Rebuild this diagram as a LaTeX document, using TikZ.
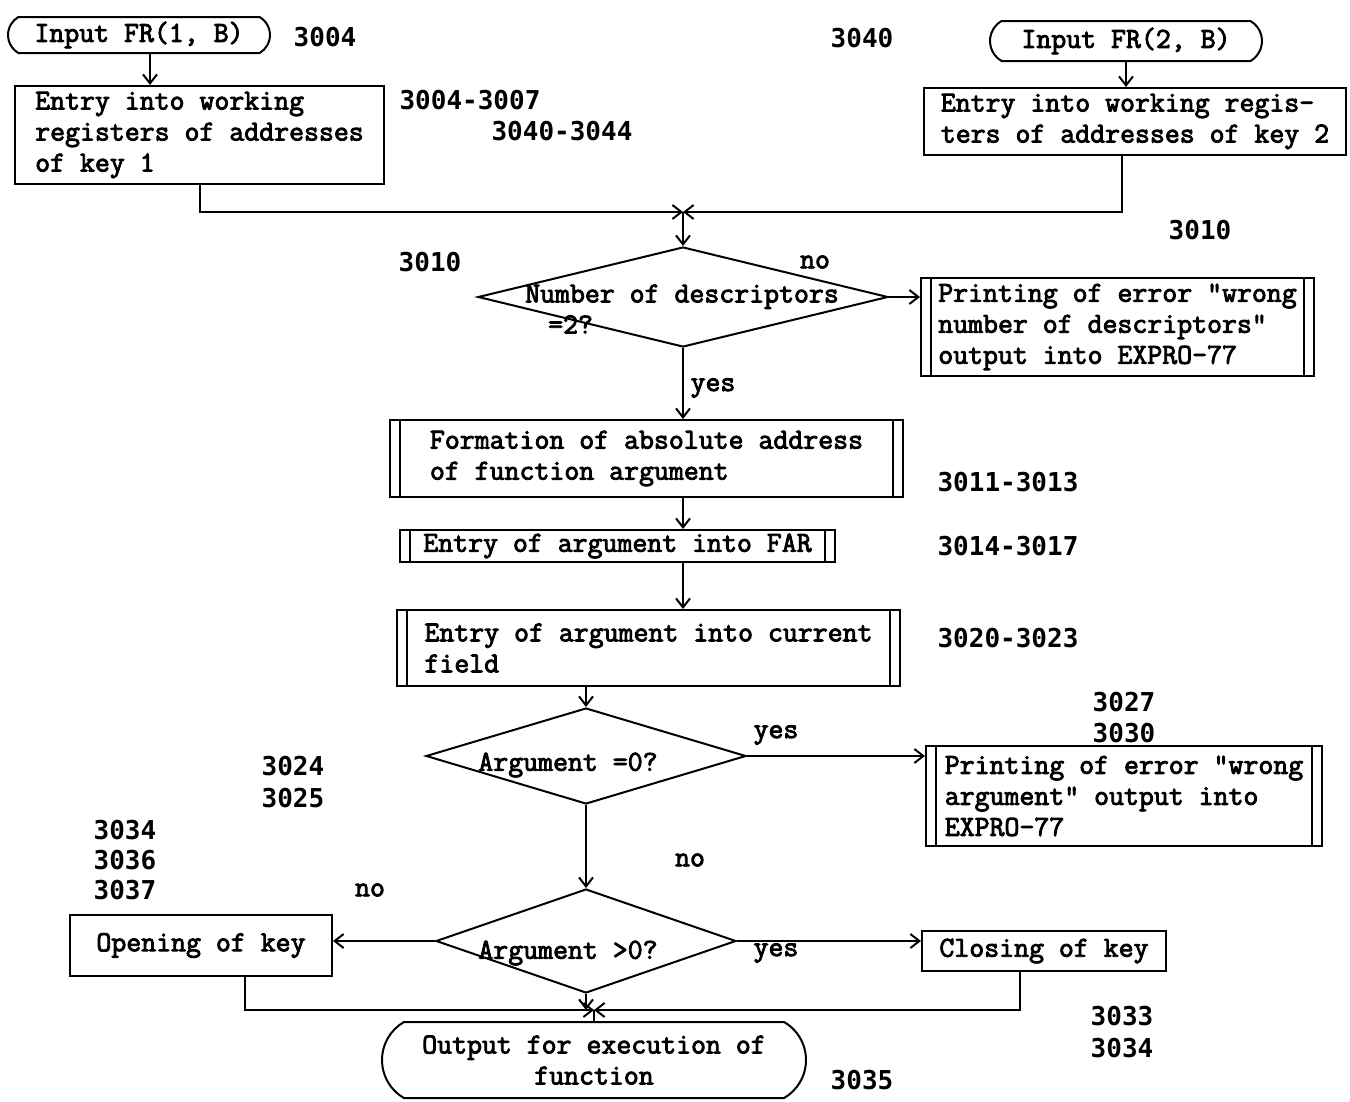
\documentclass[tikz,border=0pt]{standalone}
\usepackage{fontspec}
\newfontfamily\numfont{DejaVu Sans Mono}
\newfontfamily\boxfont{Latin Modern Mono}[FakeBold=3]
\usetikzlibrary{arrows.meta,shapes.geometric,shapes.misc}
\tikzset{
  every node/.style={font=\boxfont\fontsize{29}{31}\selectfont},
  box/.style={draw, rectangle, line width=2pt, align=left, inner sep=0pt},
  predef/.style={box, path picture={\draw[line width=2pt]
      ([xshift=10pt]path picture bounding box.north west) -- ([xshift=10pt]path picture bounding box.south west)
      ([xshift=-10pt]path picture bounding box.north east) -- ([xshift=-10pt]path picture bounding box.south east);}},
  term/.style={draw, rounded rectangle, rounded rectangle arc length=120, line width=2pt, align=center, inner sep=0pt},
  dec/.style={draw, diamond, line width=2pt, inner sep=0pt},
  num/.style={font=\numfont\bfseries\fontsize{26}{31}\selectfont, inner sep=0pt},
  lbl/.style={inner sep=0pt},
  arr/.style={line width=2pt, -{Straight Barb[length=9pt,width=14pt,line width=2pt]}},
  ln/.style={line width=2pt}
}
\begin{document}
\begin{tikzpicture}[x=1pt,y=-1pt]
\fill[white] (0,0) rectangle (1350,1101);
\useasboundingbox (0,0) rectangle (1350,1101);

% terminals and boxes
\node[term, minimum width=262pt, minimum height=36pt] (start1) at (139,35) {Input FR(1, B)};
\node[term, minimum width=272pt, minimum height=40pt] (start2) at (1126,41) {Input FR(2, B)};
\node[box, minimum width=369pt, minimum height=98pt] (box1) at (199.5,135) {Entry into working\\registers of addresses\\of key 1};
\node[box, minimum width=422pt, minimum height=67pt] (box2) at (1135,121.5) {Entry into working regis-\\ters of addresses of key 2};
\coordinate (j1) at (683,212);
\node[dec, minimum width=410pt, minimum height=100pt] (d1) at (683,297) {};
\node[lbl, align=left] (t1) at (682,309) {Number of descriptors\\\hspace*{23pt}=2?};
\node[predef, minimum width=393pt, minimum height=98pt] (box3) at (1117.5,327) {Printing of error "wrong\\number of descriptors"\\output into EXPRO-77};
\node[predef, minimum width=513pt, minimum height=77pt] (box4) at (646.5,458.5) {Formation of absolute address\\of function argument};
\node[predef, minimum width=435pt, minimum height=32pt] (box5) at (617.5,546) {Entry of argument into FAR};
\node[predef, minimum width=503pt, minimum height=76pt] (box6) at (648.5,648) {Entry of argument into current\\field};
\node[dec, minimum width=320pt, minimum height=96pt] (d2) at (586,756) {};
\node[lbl] (t2) at (568,765) {Argument =0?};
\node[predef, minimum width=396pt, minimum height=100pt] (box7) at (1124,796) {Printing of error "wrong\\argument" output into\\EXPRO-77};
\node[dec, minimum width=300pt, minimum height=104pt] (d3) at (586,941) {};
\node[lbl] (t3) at (568,953) {Argument >0?};
\node[box, minimum width=262pt, minimum height=61pt] (box8) at (201,945.5) {Opening of key};
\node[box, minimum width=244pt, minimum height=40pt] (box9) at (1044,951) {Closing of key};
\coordinate (j2) at (594,1010);
\node[term, minimum width=424pt, minimum height=76pt] (end) at (594,1060) {Output for execution of\\function};

% connectors
\draw[arr] ([xshift=11pt]start1.south) -- ([xshift=11pt]start1.south |- box1.north);
\draw[arr] (start2.south) -- (start2.south |- box2.north);
\draw[arr] (box1.south) |- (j1);
\draw[arr] ([xshift=-13pt]box2.south) |- (j1);
\draw[arr] (j1) -- (d1.north);
\draw[arr] (d1.east) -- (d1.east -| box3.west);
\draw[arr] (d1.south) -- (d1.south |- box4.north);
\draw[arr] (d1.south |- box4.south) -- (d1.south |- box5.north);
\draw[arr] (d1.south |- box5.south) -- (d1.south |- box6.north);
\draw[arr] (d2.north |- box6.south) -- (d2.north);
\draw[arr] (d2.east) -- (d2.east -| box7.west);
\draw[arr] (d2.south) -- (d3.north);
\draw[arr] (d3.west) -- (d3.west -| box8.east);
\draw[arr] (d3.east) -- (d3.east -| box9.west);
\draw[arr] ([xshift=44pt]box8.south) |- (j2);
\draw[arr] ([xshift=-24pt]box9.south) |- (j2);
\draw[arr] (d3.south) -- (d3.south |- j2);
\draw[ln] (j2) -- (j2 |- end.north);

% branch labels
\node[lbl] (no1) at (815,262) {no};
\node[lbl] (yes1) at (713,388) {yes};
\node[lbl] (yes2) at (776,735) {yes};
\node[lbl] (no2) at (690,860) {no};
\node[lbl] (no3) at (370,890) {no};
\node[lbl] (yes3) at (776,953) {yes};

% reference numbers
\node[num] (n1) at (325,37) {3004};
\node[num] (n2) at (862,38) {3040};
\node[num] (n3) at (470,100) {3004-3007};
\node[num] (n4) at (562,131) {3040-3044};
\node[num] (n5) at (1200,230) {3010};
\node[num] (n6) at (430,262) {3010};
\node[num] (n7) at (1008,482) {3011-3013};
\node[num] (n8) at (1008,546) {3014-3017};
\node[num] (n9) at (1008,638) {3020-3023};
\node[num] (n10) at (1124,702) {3027};
\node[num] (n11) at (1124,733) {3030};
\node[num] (n12) at (293,766) {3024};
\node[num] (n13) at (293,798) {3025};
\node[num] (n14) at (125,830) {3034};
\node[num] (n15) at (125,860) {3036};
\node[num] (n16) at (125,890) {3037};
\node[num] (n17) at (1122,1016) {3033};
\node[num] (n18) at (1122,1048) {3034};
\node[num] (n19) at (862,1080) {3035};
\end{tikzpicture}
\end{document}
